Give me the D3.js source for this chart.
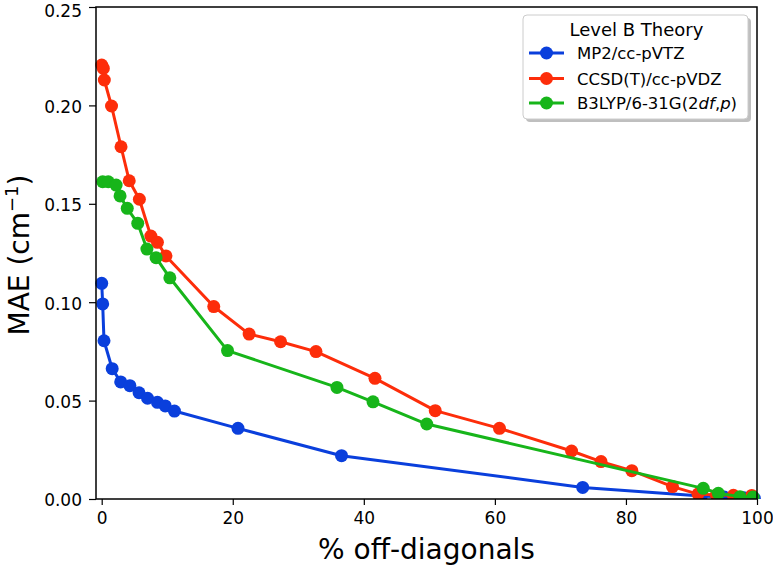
<!DOCTYPE html>
<html>
<head>
<meta charset="utf-8">
<script src="https://cdn.jsdelivr.net/npm/d3@7"></script>
<style>
  body { margin: 0; background: #fff; }
  svg { display: block; font-family: "DejaVu Sans", sans-serif; }
</style>
</head>
<body>
<svg id="chart" width="773" height="566"></svg>
<script>
// ---- data ----
const seriesNames = ["MP2/cc-pVTZ", "CCSD(T)/cc-pVDZ", "B3LYP/6-31G(2df,p)"];
const seriesColors = ["#0a3fdc", "#fd2d0a", "#17b51a"];

const mp2X = [0, 0.15, 0.35, 1.6, 2.9, 4.3, 5.7, 7.0, 8.5, 9.7, 11.1, 20.8, 36.6, 73.4, 91.5, 95.0, 98.0, 99.6];
const mp2Y = [0.1096, 0.0991, 0.0804, 0.0662, 0.0595, 0.0576, 0.0540, 0.0512, 0.0491, 0.0473, 0.0447, 0.0359, 0.0220, 0.0059, 0.0015, 0.0010, 0.0006, 0.0003];

const ccsdX = [0, 0.25, 0.4, 1.5, 2.95, 4.2, 5.75, 7.5, 8.5, 9.8, 17.1, 22.5, 27.3, 32.7, 41.7, 50.9, 60.7, 71.7, 76.2, 80.9, 87.1, 91.0, 93.8, 96.4, 99.2];
const ccsdY = [0.2205, 0.2188, 0.2129, 0.1997, 0.1790, 0.1617, 0.1523, 0.1336, 0.1304, 0.1235, 0.0978, 0.0838, 0.0799, 0.0749, 0.0613, 0.0449, 0.0359, 0.0244, 0.0190, 0.0144, 0.0063, 0.0025, 0.0020, 0.0019, 0.0018];

const b3lypX = [0.15, 1.0, 2.2, 2.8, 3.9, 5.5, 6.9, 8.3, 10.4, 19.2, 35.9, 41.4, 49.6, 91.8, 94.1, 97.4, 99.4];
const b3lypY = [0.1612, 0.1612, 0.1595, 0.1540, 0.1477, 0.1401, 0.1270, 0.1226, 0.1124, 0.0754, 0.0567, 0.0494, 0.0381, 0.0054, 0.0029, 0.0012, 0.0010];

const xTicks = [0, 20, 40, 60, 80, 100];
const yTicks = [0, 0.05, 0.10, 0.15, 0.20, 0.25];
const xTitle = "% off-diagonals";
const legendTitle = "Level B Theory";

// ---- layout ----
const svg = d3.select("#chart");
const pL = 96, pR = 757, pT = 7, pB = 499;

const x = d3.scaleLinear().domain([-0.87, 100]).range([pL, pR]);
const y = d3.scaleLinear().domain([0, 0.25]).range([pB, pT]);

// axes
const xAxis = d3.axisBottom(x).tickValues(xTicks).tickFormat(d3.format("d")).tickSize(6).tickPadding(7);
const yAxis = d3.axisLeft(y).tickValues(yTicks).tickFormat(d3.format(".2f")).tickSize(7).tickPadding(7);

const gx = svg.append("g").attr("transform", `translate(0,${pB})`).call(xAxis);
const gy = svg.append("g").attr("transform", `translate(${pL},0)`).call(yAxis);
[gx, gy].forEach(g => {
  g.select(".domain").remove();
  g.selectAll("line").attr("stroke", "#000").attr("stroke-width", 1.2);
  g.selectAll("text").attr("font-family", "DejaVu Sans").attr("font-size", 17).attr("fill", "#000");
});
gy.selectAll("text").attr("dy", d => d === 0.25 ? "0.53em" : "0.41em");

// clip for data
svg.append("clipPath").attr("id", "clip").append("rect")
  .attr("x", pL - 10).attr("y", pT - 10).attr("width", pR - pL + 20).attr("height", pB - pT + 10);

const series = [
  { name: seriesNames[0], color: seriesColors[0], xs: mp2X, ys: mp2Y },
  { name: seriesNames[1], color: seriesColors[1], xs: ccsdX, ys: ccsdY },
  { name: seriesNames[2], color: seriesColors[2], xs: b3lypX, ys: b3lypY }
];

const line = d3.line().x(d => x(d[0])).y(d => y(d[1]));
const plot = svg.append("g").attr("clip-path", "url(#clip)");
series.forEach(s => {
  const pts = s.xs.map((v, i) => [v, s.ys[i]]);
  const g = plot.append("g");
  g.append("path").datum(pts).attr("d", line)
    .attr("fill", "none").attr("stroke", s.color).attr("stroke-width", 3)
    .attr("stroke-linejoin", "round");
  g.selectAll("circle").data(pts).enter().append("circle")
    .attr("cx", d => x(d[0])).attr("cy", d => y(d[1])).attr("r", 6.5)
    .attr("fill", s.color);
});

// spines
svg.append("rect").attr("x", pL).attr("y", pT).attr("width", pR - pL).attr("height", pB - pT)
  .attr("fill", "none").attr("stroke", "#000").attr("stroke-width", 1.5);

// axis titles
svg.append("text").attr("x", (pL + pR) / 2).attr("y", 559)
  .attr("text-anchor", "middle").attr("font-size", 28).attr("fill", "#000").text(xTitle);

const yt = svg.append("text").attr("transform", `translate(29,${(pT + pB) / 2 + 2}) rotate(-90)`)
  .attr("text-anchor", "middle").attr("font-size", 28).attr("fill", "#000");
yt.append("tspan").text("MAE (cm");
yt.append("tspan").attr("font-size", 18).attr("dy", -11).text("\u22121");
yt.append("tspan").attr("dy", 11).text(")");

// legend
const lx = 523, ly = 15, lw = 225, lh = 104;
svg.append("rect").attr("x", lx + 3).attr("y", ly + 3).attr("width", lw).attr("height", lh)
  .attr("rx", 4).attr("fill", "#808080").attr("opacity", 0.5);
svg.append("rect").attr("x", lx).attr("y", ly).attr("width", lw).attr("height", lh)
  .attr("rx", 4).attr("fill", "#fff").attr("stroke", "#cccccc").attr("stroke-width", 1);
svg.append("text").attr("x", lx + lw / 2 + 1).attr("y", ly + 21)
  .attr("text-anchor", "middle").attr("font-size", 18).attr("fill", "#000").text(legendTitle);

const rowY = [53, 78.5, 103];
series.forEach((s, i) => {
  const g = svg.append("g");
  g.append("line").attr("x1", 529).attr("x2", 564).attr("y1", rowY[i]).attr("y2", rowY[i])
    .attr("stroke", s.color).attr("stroke-width", 3);
  g.append("circle").attr("cx", 546.5).attr("cy", rowY[i]).attr("r", 6.5).attr("fill", s.color);
  const t = g.append("text").attr("x", 577).attr("y", rowY[i] + 6).attr("font-size", 16.5).attr("fill", "#000");
  if (i === 2) {
    t.append("tspan").text("B3LYP/6-31G(2");
    t.append("tspan").attr("font-style", "italic").text("df");
    t.append("tspan").text(",");
    t.append("tspan").attr("font-style", "italic").text("p");
    t.append("tspan").text(")");
  } else {
    t.text(s.name);
  }
});
</script>
</body>
</html>
